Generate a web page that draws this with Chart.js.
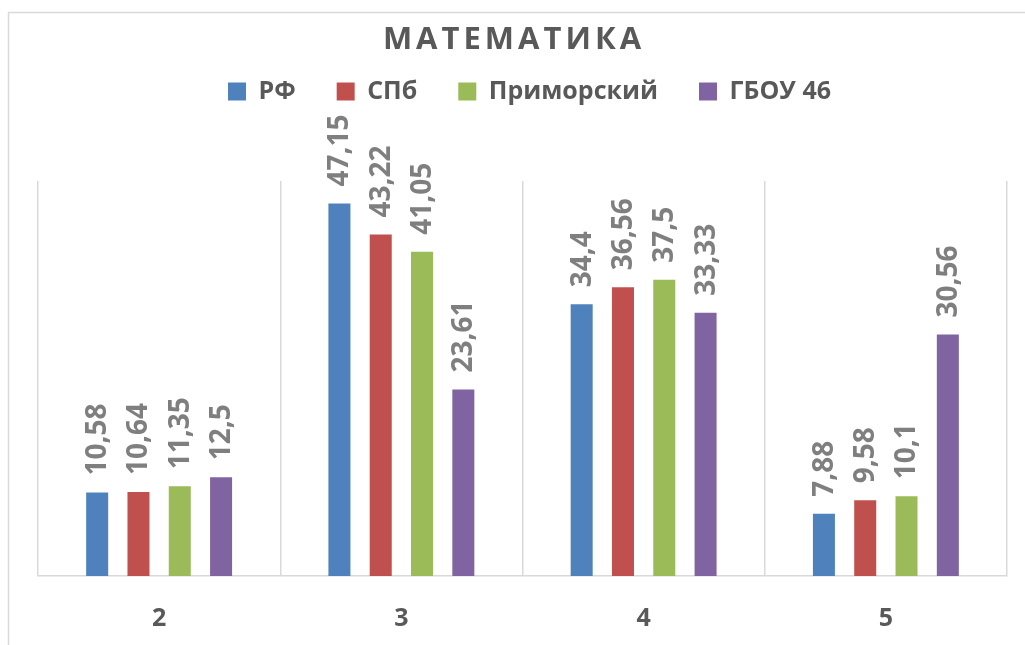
<!DOCTYPE html>
<html lang="ru">
<head>
    <meta charset="UTF-8">
    <title>Математика</title>
    <script src="https://cdn.jsdelivr.net/npm/chart.js"></script>
    <style>
        html, body { margin: 0; padding: 0; background: #fff; }
        #wrap { width: 1025px; height: 645px; }
    </style>
</head>
<body>
    <div id="wrap"><canvas id="chart"></canvas></div>

    <script>
        // data
        const categories = ['2', '3', '4', '5'];
        const seriesNames = ['РФ', 'СПб', 'Приморский', 'ГБОУ 46'];
        const rfValues = [10.58, 47.15, 34.4, 7.88];
        const spbValues = [10.64, 43.22, 36.56, 9.58];
        const primValues = [11.35, 41.05, 37.5, 10.1];
        const schoolValues = [12.5, 23.61, 33.33, 30.56];
        const colors = ['#4F81BD', '#C0504D', '#9BBB59', '#8064A2'];

        const FONT = "'Open Sans', 'DejaVu Sans', sans-serif";

        // frame, title and rotated value labels
        const decor = {
            id: 'decor',
            beforeDraw(chart) {
                const ctx = chart.ctx;
                ctx.save();
                ctx.fillStyle = '#fff';
                ctx.fillRect(0, 0, chart.width, chart.height);
                ctx.strokeStyle = '#d9d9d9';
                ctx.lineWidth = 1.5;
                ctx.strokeRect(8.5, 12.5, 1200, 1000);
                ctx.restore();
            },
            afterLayout(chart) {
                // excel puts the legend a bit right of centre
                chart.legend.left += 7;
                chart.legend.right += 7;
            },
            afterDatasetsDraw(chart) {
                const ctx = chart.ctx;
                ctx.save();
                ctx.fillStyle = '#7f7f7f';
                ctx.font = 'bold 28px ' + FONT;
                ctx.textAlign = 'left';
                ctx.textBaseline = 'middle';
                chart.data.datasets.forEach((ds, i) => {
                    chart.getDatasetMeta(i).data.forEach((bar, j) => {
                        ctx.save();
                        ctx.translate(bar.x, bar.y - 17);
                        ctx.rotate(-Math.PI / 2);
                        ctx.fillText(String(ds.data[j]).replace('.', ','), 0, 1);
                        ctx.restore();
                    });
                });
                ctx.restore();
            },
            afterDraw(chart) {
                const ctx = chart.ctx;
                ctx.save();
                ctx.fillStyle = '#595959';
                ctx.font = 'bold 31px ' + FONT;
                ctx.letterSpacing = '4px';
                ctx.textAlign = 'center';
                ctx.textBaseline = 'middle';
                ctx.fillText('МАТЕМАТИКА', 514, 40);
                ctx.restore();
            }
        };

        new Chart(document.getElementById('chart'), {
            type: 'bar',
            data: {
                labels: categories,
                datasets: [
                    { label: seriesNames[0], data: rfValues, backgroundColor: colors[0] },
                    { label: seriesNames[1], data: spbValues, backgroundColor: colors[1] },
                    { label: seriesNames[2], data: primValues, backgroundColor: colors[2] },
                    { label: seriesNames[3], data: schoolValues, backgroundColor: colors[3] }
                ]
            },
            options: {
                responsive: true,
                maintainAspectRatio: false,
                animation: false,
                categoryPercentage: 0.682,
                barPercentage: 0.533,
                layout: { padding: { top: 38, left: 38, right: 18, bottom: 12 } },
                plugins: {
                    title: { display: false },
                    legend: {
                        display: true,
                        position: 'top',
                        labels: {
                            boxWidth: 18,
                            boxHeight: 18,
                            padding: 41,
                            color: '#595959',
                            font: { family: FONT, size: 25, weight: 'bold' }
                        }
                    },
                    // empty subtitle used as a spacer under the legend
                    subtitle: {
                        display: true,
                        text: ' ',
                        weight: 500,
                        font: { size: 10 },
                        padding: { top: 0, bottom: 55 }
                    },
                    tooltip: { enabled: false }
                },
                scales: {
                    x: {
                        grid: {
                            display: true,
                            color: '#d9d9d9',
                            lineWidth: 1.5,
                            drawTicks: false,
                            offset: true
                        },
                        border: { color: '#d9d9d9', width: 1.5 },
                        ticks: {
                            color: '#595959',
                            padding: 28,
                            font: { family: FONT, size: 25, weight: 'bold' }
                        },
                        afterFit(scale) { scale.height = 57; }
                    },
                    y: {
                        display: false,
                        min: 0,
                        max: 50
                    }
                }
            },
            plugins: [decor]
        });
    </script>
</body>
</html>
